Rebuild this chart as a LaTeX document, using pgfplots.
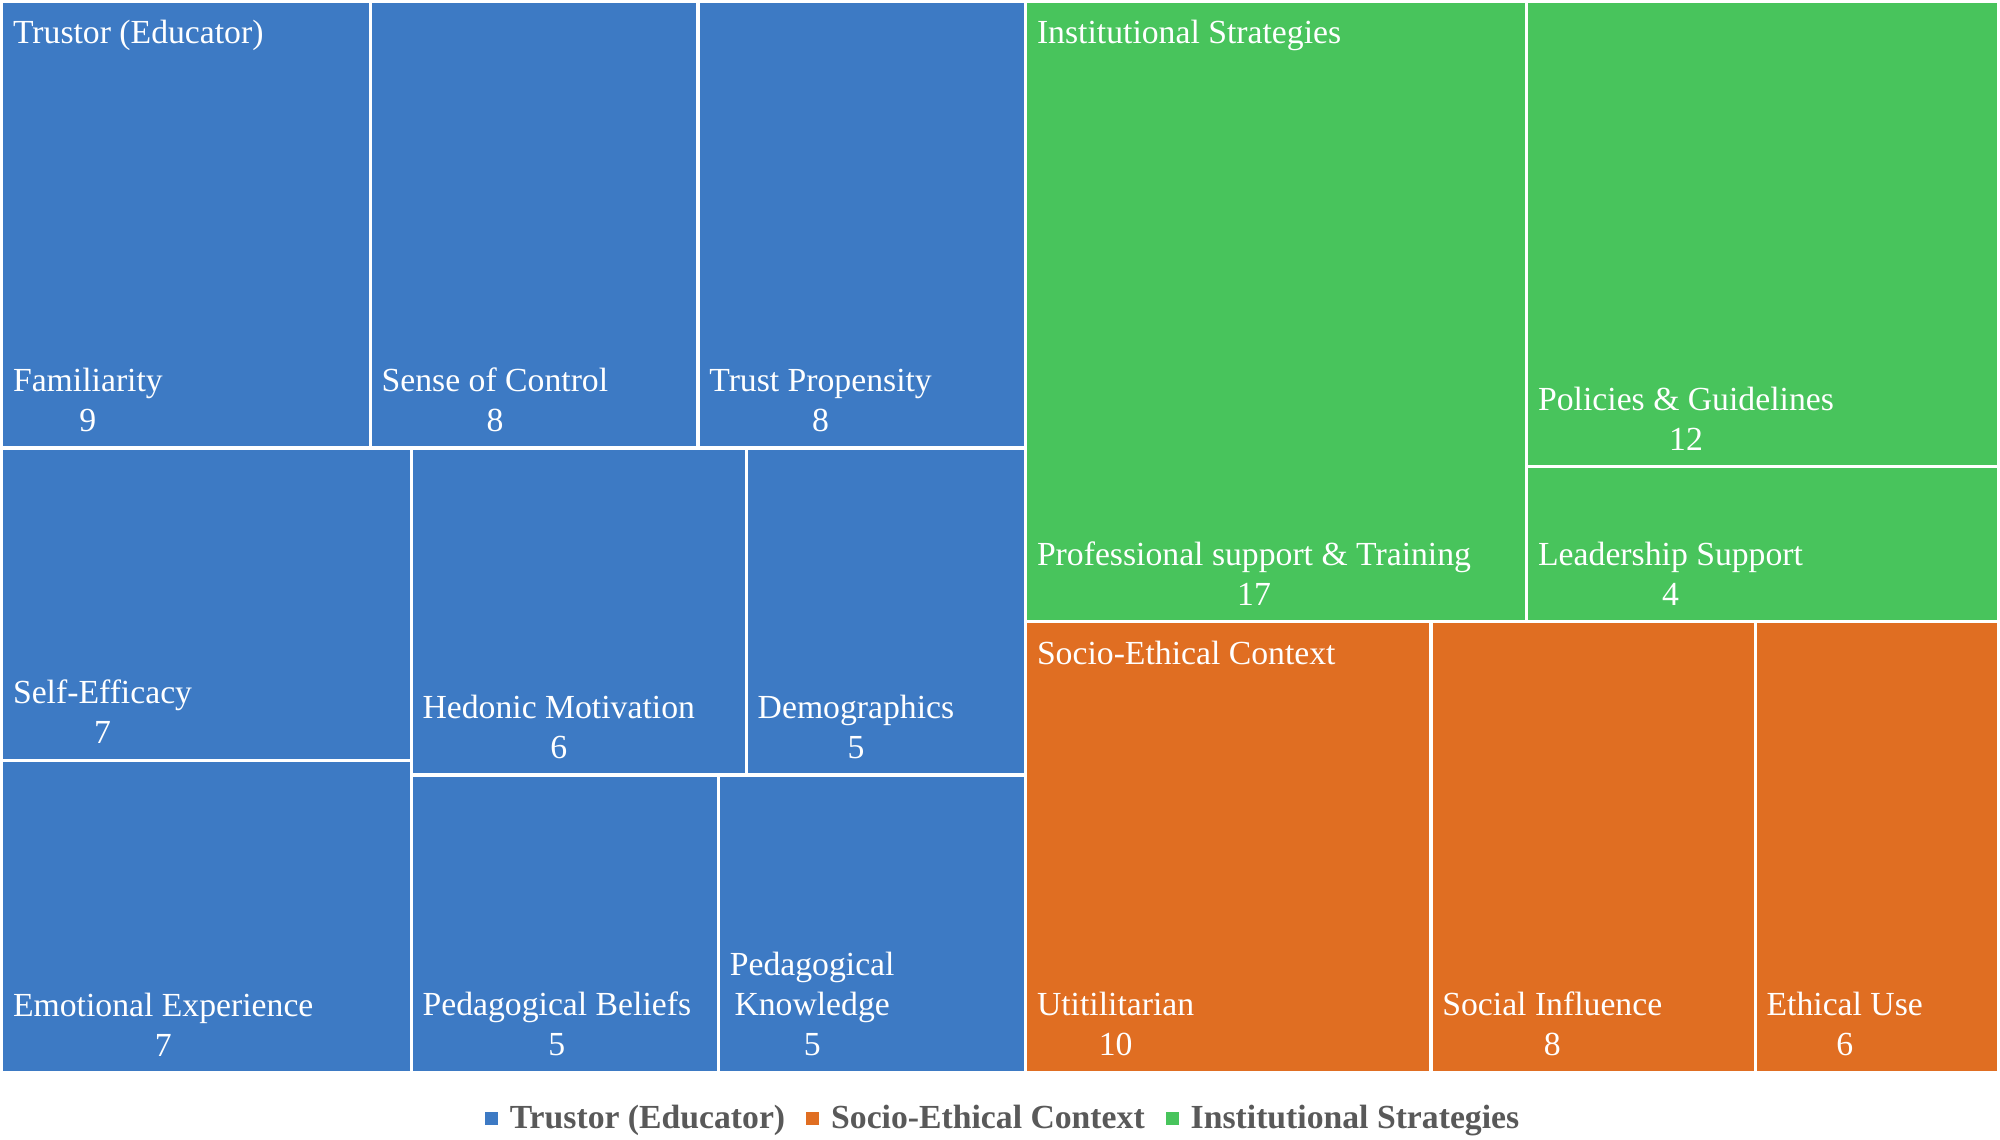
\documentclass[border=0pt]{standalone}
\usepackage{pgfplots}
\pgfplotsset{compat=1.18}
\usepackage{fontspec}
\setmainfont{Liberation Serif}
\definecolor{tblue}{RGB}{61,122,196}
\definecolor{torange}{RGB}{224,110,34}
\definecolor{tgreen}{RGB}{72,196,92}
\definecolor{lgray}{RGB}{89,89,89}
\tikzset{
  tile/.style={draw=white, line width=1.65pt},
  lbl/.style={text=white, font=\fontsize{16.85}{20}\selectfont, align=center, inner sep=0pt, anchor=south west},
  hdr/.style={text=white, font=\fontsize{16.85}{20}\selectfont, inner sep=0pt, anchor=base west},
}
\begin{document}
\begin{tikzpicture}
\begin{axis}[
  scale only axis, width=1000pt, height=570pt,
  xmin=0, xmax=2000, ymin=0, ymax=1140, y dir=reverse,
  hide axis, clip=false,
  legend columns=3,
  legend style={at={(axis cs:1002,1118)}, anchor=center, draw=none, fill=none,
    font=\fontsize{16.85}{20}\selectfont\bfseries, text=lgray,
    nodes={inner sep=0pt},
    /tikz/every odd column/.append style={column sep=6pt},
    /tikz/every even column/.append style={column sep=10.5pt}},
  legend image code/.code={\fill[#1, draw=none] (0pt,-3.25pt) rectangle (6.5pt,3.25pt);},
]
\path (rel axis cs:0,0) rectangle (rel axis cs:1,1);
% ---- Trustor (Educator): 60 ----
\addplot[tile, fill=tblue, forget plot] coordinates {(1.5,1.5) (370.2,1.5) (370.2,447.8) (1.5,447.8)} -- cycle;      % Familiarity 9
\addplot[tile, fill=tblue, forget plot] coordinates {(370.2,1.5) (697.9,1.5) (697.9,447.8) (370.2,447.8)} -- cycle;  % Sense of Control 8
\addplot[tile, fill=tblue, forget plot] coordinates {(697.9,1.5) (1025.6,1.5) (1025.6,447.8) (697.9,447.8)} -- cycle; % Trust Propensity 8
\addplot[tile, fill=tblue, forget plot] coordinates {(1.5,447.8) (411.1,447.8) (411.1,760.2) (1.5,760.2)} -- cycle;  % Self-Efficacy 7
\addplot[tile, fill=tblue, forget plot] coordinates {(1.5,760.2) (411.1,760.2) (411.1,1072.5) (1.5,1072.5)} -- cycle; % Emotional Experience 7
\addplot[tile, fill=tblue, forget plot] coordinates {(411.1,447.8) (746.3,447.8) (746.3,775.0) (411.1,775.0)} -- cycle; % Hedonic Motivation 6
\addplot[tile, fill=tblue, forget plot] coordinates {(746.3,447.8) (1025.6,447.8) (1025.6,775.0) (746.3,775.0)} -- cycle; % Demographics 5
\addplot[tile, fill=tblue, forget plot] coordinates {(411.1,775.0) (718.4,775.0) (718.4,1072.5) (411.1,1072.5)} -- cycle; % Pedagogical Beliefs 5
\addplot[tile, fill=tblue, forget plot] coordinates {(718.4,775.0) (1025.6,775.0) (1025.6,1072.5) (718.4,1072.5)} -- cycle; % Pedagogical Knowledge 5
% ---- Institutional Strategies: 33 ----
\addplot[tile, fill=tgreen, forget plot] coordinates {(1025.6,1.5) (1526.8,1.5) (1526.8,621.5) (1025.6,621.5)} -- cycle; % Professional support 17
\addplot[tile, fill=tgreen, forget plot] coordinates {(1526.8,1.5) (1998.5,1.5) (1998.5,466.5) (1526.8,466.5)} -- cycle; % Policies 12
\addplot[tile, fill=tgreen, forget plot] coordinates {(1526.8,466.5) (1998.5,466.5) (1998.5,621.5) (1526.8,621.5)} -- cycle; % Leadership 4
% ---- Socio-Ethical Context: 24 ----
\addplot[tile, fill=torange, forget plot] coordinates {(1025.6,621.5) (1431.0,621.5) (1431.0,1072.5) (1025.6,1072.5)} -- cycle; % Utilitarian 10
\addplot[tile, fill=torange, forget plot] coordinates {(1431.0,621.5) (1755.3,621.5) (1755.3,1072.5) (1431.0,1072.5)} -- cycle; % Social Influence 8
\addplot[tile, fill=torange, forget plot] coordinates {(1755.3,621.5) (1998.5,621.5) (1998.5,1072.5) (1755.3,1072.5)} -- cycle; % Ethical Use 6
% legend
\addlegendimage{fill=tblue}
\addlegendentry{Trustor (Educator)}
\addlegendimage{fill=torange}
\addlegendentry{Socio-Ethical Context}
\addlegendimage{fill=tgreen}
\addlegendentry{Institutional Strategies}
% headers
\node[hdr] at (axis cs:12.5,43.5) {Trustor (Educator)};
\node[hdr] at (axis cs:1036.6,43.5) {Institutional Strategies};
\node[hdr] at (axis cs:1036.6,664.5) {Socio-Ethical Context};
% labels
\node[lbl] at (axis cs:12.5,431.8) {Familiarity\\9};
\node[lbl] at (axis cs:381.2,431.8) {Sense of Control\\8};
\node[lbl] at (axis cs:708.9,431.8) {Trust Propensity\\8};
\node[lbl] at (axis cs:12.5,744.2) {Self-Efficacy\\7};
\node[lbl] at (axis cs:12.5,1056.5) {Emotional Experience\\7};
\node[lbl] at (axis cs:422.1,759.0) {Hedonic Motivation\\6};
\node[lbl] at (axis cs:757.3,759.0) {Demographics\\5};
\node[lbl] at (axis cs:422.1,1056.5) {Pedagogical Beliefs\\5};
\node[lbl] at (axis cs:729.4,1056.5) {Pedagogical\\Knowledge\\5};
\node[lbl] at (axis cs:1036.6,605.5) {Professional support \& Training\\17};
\node[lbl] at (axis cs:1537.8,450.5) {Policies \& Guidelines\\12};
\node[lbl] at (axis cs:1537.8,605.5) {Leadership Support\\4};
\node[lbl] at (axis cs:1036.6,1056.5) {Utitilitarian\\10};
\node[lbl] at (axis cs:1442.0,1056.5) {Social Influence\\8};
\node[lbl] at (axis cs:1766.3,1056.5) {Ethical Use\\6};
\end{axis}
\end{tikzpicture}
\end{document}
